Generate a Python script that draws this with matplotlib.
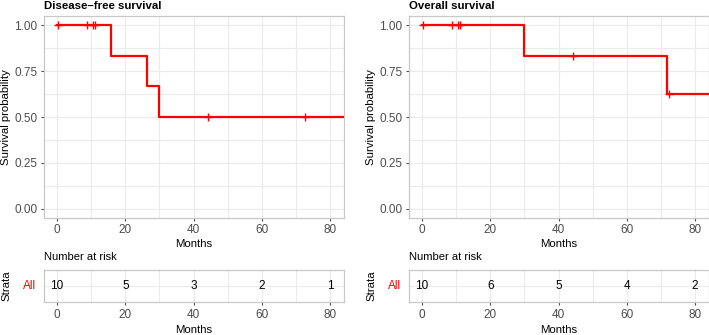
import matplotlib
matplotlib.use('Agg')
import matplotlib.pyplot as plt
import numpy as np

# Kaplan-Meier step curves (time of drop, survival after drop)
dfs_step_t = [0, 15.7, 26.4, 29.8]
dfs_step_s = [1.0, 0.833, 0.667, 0.5]
dfs_censor = [0.3, 8.8, 10.4, 11.0, 44.2, 72.7]

os_step_t = [0, 29.8, 71.8]
os_step_s = [1.0, 0.833, 0.625]
os_censor = [0.3, 8.8, 10.4, 11.0, 44.2, 72.5]

risk_times = [0, 20, 40, 60, 80]
dfs_risk = [10, 5, 3, 2, 1]
os_risk = [10, 6, 5, 4, 2]

XMAX = 84.1
XLIM = (-4.0, XMAX)
GRID = '#EBEBEB'
BORDER = '#C8C8C8'
TICKC = '#4D4D4D'

plt.rcParams['font.family'] = ['Liberation Sans', 'DejaVu Sans']

W, H = 709, 335
fig = plt.figure(figsize=(W / 100, H / 100), dpi=100)


def px_axes(x0, y0, x1, y1):
    # pixel box (top-left origin) -> figure axes
    return fig.add_axes([x0 / W, 1 - y1 / H, (x1 - x0) / W, (y1 - y0) / H])


def style(ax):
    ax.set_xlim(*XLIM)
    ax.set_xticks([0, 20, 40, 60, 80])
    ax.set_xticks([10, 30, 50, 70], minor=True)
    ax.grid(True, which='both', color=GRID, lw=0.8)
    ax.set_axisbelow(True)
    for s in ax.spines.values():
        s.set_color(BORDER)
        s.set_linewidth(0.9)
    ax.tick_params(which='major', length=2.5, color=TICKC, labelcolor=TICKC, labelsize=8.5, pad=2)
    ax.tick_params(which='minor', length=0)


def km_panel(ax, st, ss, cens, title, xpx):
    t = list(st) + [XMAX]
    s = list(ss) + [ss[-1]]
    ax.step(t, s, where='post', color='#FF0000', lw=1.6, zorder=3)
    # censor marks on the curve
    cs = [ss[np.searchsorted(st, c, side='right') - 1] for c in cens]
    ax.plot(cens, cs, ls='none', marker='+', ms=6, mew=1.0, color='#FF0000', zorder=4)
    style(ax)
    ax.set_ylim(-0.05, 1.05)
    ax.set_yticks([0, 0.25, 0.5, 0.75, 1.0])
    ax.set_yticklabels(['0.00', '0.25', '0.50', '0.75', '1.00'])
    ax.set_yticks([0.125, 0.375, 0.625, 0.875], minor=True)
    ax.set_xlabel('Months', fontsize=8.2, labelpad=2)
    fig.text((xpx - 38) / W, 1 - 117 / H, 'Survival probability', fontsize=8.2,
             rotation=90, va='center', ha='center')
    fig.text(xpx / W, 1 - 6 / H, title, fontsize=8.2, fontweight='bold', va='center', ha='left')


def risk_panel(ax, counts, xpx):
    for x, n in zip(risk_times, counts):
        ax.text(x, 0, str(n), ha='center', va='center', fontsize=8.5)
    style(ax)
    ax.set_ylim(-1, 1)
    ax.set_yticks([0])
    ax.set_yticklabels([''])
    ax.tick_params(axis='y', length=0)
    ax.set_xlabel('Months', fontsize=8.2, labelpad=3.5)
    fig.text(xpx / W, 1 - 257 / H, 'Number at risk', fontsize=8.0, va='center', ha='left')
    fig.text((xpx - 8) / W, 1 - 286 / H, 'All', fontsize=8.5, color='#FF0000', va='center', ha='right')
    fig.text((xpx - 38) / W, 1 - 286 / H, 'Strata', fontsize=8.2, rotation=90, va='center', ha='center')


ax1 = px_axes(43.5, 16, 344, 218)
km_panel(ax1, dfs_step_t, dfs_step_s, dfs_censor, 'Disease\u2013free survival', 44)
ax2 = px_axes(408.5, 16, 709, 218)
km_panel(ax2, os_step_t, os_step_s, os_censor, 'Overall survival', 409)

ax3 = px_axes(43.5, 270, 344, 302.3)
risk_panel(ax3, dfs_risk, 44)
ax4 = px_axes(408.5, 270, 709, 302.3)
risk_panel(ax4, os_risk, 409)

fig.savefig('out.png', dpi=100)
